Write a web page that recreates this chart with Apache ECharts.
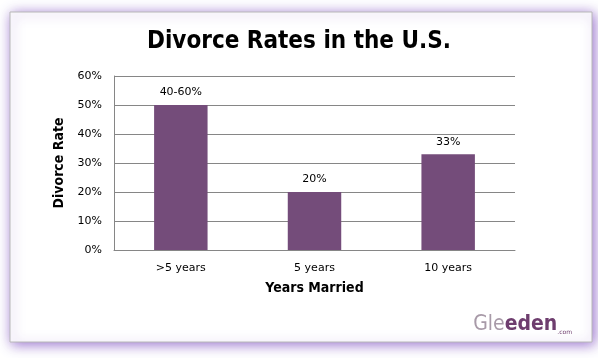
<!DOCTYPE html>
<html><head><meta charset="utf-8">
<script src="https://cdn.jsdelivr.net/npm/echarts@6/dist/echarts.min.js"></script>
<style>html,body{margin:0;padding:0;background:#fff;}#c{width:598px;height:358px;}</style>
</head><body><div id="c"></div>
<script>
const categories = [">5 years", "5 years", "10 years"];
const values = [50, 20, 33];
const barLabels = ["40-60%", "20%", "33%"];
const yTicks = [0, 10, 20, 30, 40, 50, 60];

const chart = echarts.init(document.getElementById('c'));
chart.setOption({
  animation: false,
  backgroundColor: '#ffffff',
  graphic: [
    { type: 'rect', z: -10, shape: { x: 10, y: 12, width: 582, height: 330 },
      style: { fill: '#fff', stroke: '#b8b8b8', lineWidth: 1, shadowBlur: 12, shadowColor: 'rgba(140,95,200,0.9)', shadowOffsetX: 2, shadowOffsetY: 2 } },
    { type: 'text', right: 26, top: 314,
      style: { text: '{a|Gle}{b|eden}{c|.com}', rich: {
        a: { fill: '#a89aa8', fontSize: 21, fontFamily: 'DejaVu Sans Condensed', fontWeight: 'normal' },
        b: { fill: '#6e3d6e', fontSize: 21, fontFamily: 'DejaVu Sans Condensed', fontWeight: 'bold' },
        c: { fill: '#6e3d6e', fontSize: 6, fontFamily: 'DejaVu Sans', verticalAlign: 'bottom', padding: [8,0,0,0] } } } }
  ],
  title: { text: 'Divorce Rates in the U.S.', left: 'center', top: 25,
    textStyle: { fontFamily: 'DejaVu Sans Condensed', fontWeight: 'bold', fontSize: 24, color: '#000' } },
  grid: { left: 114, right: 83, top: 76, bottom: 108, containLabel: false },
  xAxis: {
    type: 'category', data: categories,
    name: 'Years Married', nameLocation: 'middle', nameGap: 31,
    nameTextStyle: { fontFamily: 'DejaVu Sans Condensed', fontWeight: 'bold', fontSize: 14, color: '#000' },
    axisLine: { lineStyle: { color: '#868686' } },
    axisTick: { show: false },
    axisLabel: { fontFamily: 'DejaVu Sans', fontSize: 11, color: '#000', margin: 13 }
  },
  yAxis: {
    type: 'value', min: 0, max: 60, interval: 10,
    name: 'Divorce Rate', nameLocation: 'middle', nameGap: 48,
    nameTextStyle: { fontFamily: 'DejaVu Sans Condensed', fontWeight: 'bold', fontSize: 14, color: '#000' },
    axisLine: { show: true, lineStyle: { color: '#868686' } },
    axisTick: { show: false },
    axisLabel: { formatter: v => yTicks.includes(v) ? v + '%' : '', fontFamily: 'DejaVu Sans', fontSize: 11, color: '#000', margin: 12 },
    splitLine: { lineStyle: { color: '#868686' } }
  },
  series: [{
    type: 'bar', data: values, barWidth: '40%',
    itemStyle: { color: '#744c7a' },
    label: { show: true, position: 'top', distance: 7, formatter: p => barLabels[p.dataIndex],
      fontFamily: 'DejaVu Sans', fontSize: 11, color: '#000' }
  }]
});
</script></body></html>
